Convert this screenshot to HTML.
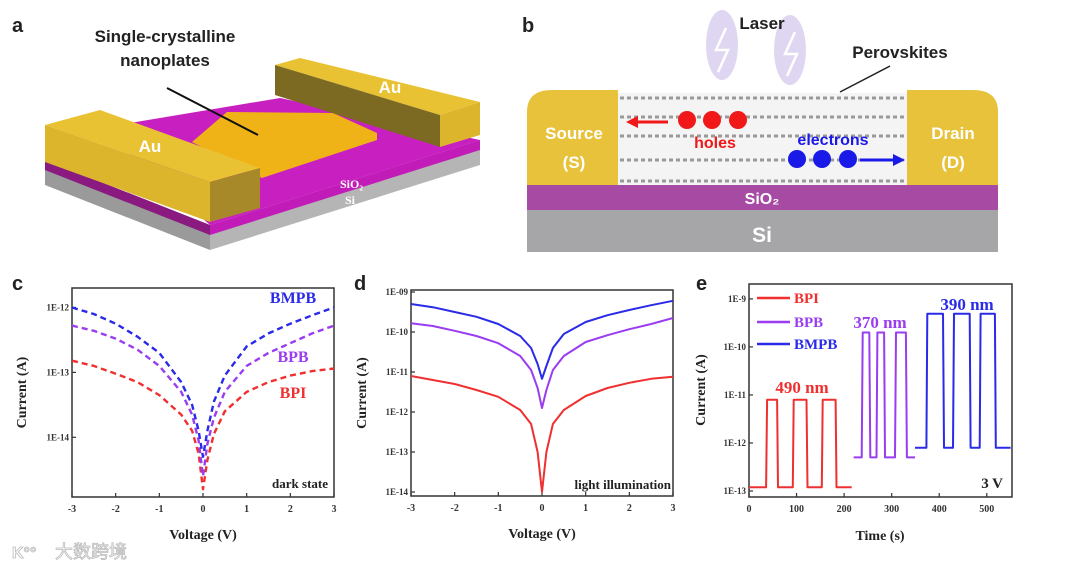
<!DOCTYPE html>
<html><head><meta charset="utf-8"><style>
html,body{margin:0;padding:0;background:#fff;}
svg{display:block;}
.ser{font-family:"Liberation Serif",serif;font-weight:bold;}
.san{font-family:"Liberation Sans",sans-serif;font-weight:bold;}
</style></head><body>
<svg id="fig" width="1080" height="571" viewBox="0 0 1080 571" xmlns="http://www.w3.org/2000/svg">
<!-- Panel a -->
<g>
<text x="12" y="32" class="san" font-size="20" fill="#222">a</text>
<!-- substrate -->
<polygon points="45,160 210,225 210,250 45,185" fill="#9a9a9a"/>
<polygon points="210,225 480,140 480,165 210,250" fill="#b5b5b5"/>
<polygon points="45,160 210,225 210,235 45,170" fill="#8a1a80"/>
<polygon points="210,225 480,140 480,150 210,235" fill="#c21cb8"/>
<polygon points="100,128 280,98 480,140 210,225" fill="#c81fc0"/>
<!-- nanoplate -->
<polygon points="192,142 227,112 333,113 377,133 377,140 262,178" fill="#efb318"/>
<!-- left Au -->
<polygon points="45,125 100,110 260,168 210,182" fill="#e9c233"/>
<polygon points="45,125 210,182 210,222 45,162" fill="#dcb52d"/>
<polygon points="210,182 260,168 260,208 210,222" fill="#a8892a"/>
<!-- right Au -->
<polygon points="275,65 300,58 480,102 440,115" fill="#e9c233"/>
<polygon points="275,65 440,115 440,147 275,95" fill="#7d6a22"/>
<polygon points="440,115 480,102 480,135 440,147" fill="#dcb52d"/>
<line x1="167" y1="88" x2="258" y2="135" stroke="#111" stroke-width="2"/>
<text x="165" y="42" text-anchor="middle" class="san" font-size="17" fill="#222">Single-crystalline</text>
<text x="165" y="66" text-anchor="middle" class="san" font-size="17" fill="#222">nanoplates</text>
<text x="150" y="152" text-anchor="middle" class="san" font-size="17" fill="#fff">Au</text>
<text x="390" y="93" text-anchor="middle" class="san" font-size="17" fill="#fff">Au</text>
<text x="340" y="188" class="ser" font-size="12" fill="#fff" font-weight="normal">SiO₂</text>
<text x="345" y="204" class="ser" font-size="12" fill="#fff" font-weight="normal">Si</text>
</g>
<!-- Panel b -->
<g>
<text x="522" y="32" class="san" font-size="20" fill="#222">b</text>
<ellipse cx="722" cy="45" rx="16" ry="35" fill="#c9bde8" opacity="0.6"/>
<ellipse cx="790" cy="50" rx="16" ry="35" fill="#c9bde8" opacity="0.6"/>
<polyline points="726,28 716,50 728,50 718,72" fill="none" stroke="#fff" stroke-width="2.5"/>
<polyline points="795,32 785,54 797,54 787,76" fill="none" stroke="#fff" stroke-width="2.5"/>
<text x="762" y="29" text-anchor="middle" class="san" font-size="17" fill="#222">Laser</text>
<text x="900" y="58" text-anchor="middle" class="san" font-size="17" fill="#222">Perovskites</text>
<line x1="890" y1="66" x2="840" y2="92" stroke="#222" stroke-width="1.5"/>
<rect x="527" y="210" width="471" height="42" fill="#a6a6a8"/>
<rect x="527" y="185" width="471" height="25" fill="#a74aa3"/>
<path d="M527,185 V112 Q527,90 552,90 H618 V185 Z" fill="#e7c23a"/>
<path d="M907,185 V90 H973 Q998,90 998,112 V185 Z" fill="#e7c23a"/>
<rect x="618" y="93" width="289" height="92" fill="#f4f4f4"/>
<g stroke="#9a9a9a" stroke-width="3" stroke-dasharray="4,3">
<line x1="620" y1="98" x2="905" y2="98"/><line x1="620" y1="117" x2="905" y2="117"/><line x1="620" y1="136" x2="905" y2="136"/><line x1="620" y1="160" x2="905" y2="160"/><line x1="620" y1="181" x2="905" y2="181"/>
</g>
<circle cx="687" cy="120" r="9" fill="#f01818"/>
<circle cx="712" cy="120" r="9" fill="#f01818"/>
<circle cx="738" cy="120" r="9" fill="#f01818"/>
<line x1="668" y1="122" x2="636" y2="122" stroke="#f01818" stroke-width="3"/>
<polygon points="626,122 638,116 638,128" fill="#f01818"/>
<text x="715" y="148" text-anchor="middle" class="san" font-size="16" fill="#f01818">holes</text>
<circle cx="797" cy="159" r="9" fill="#1a1ae8"/>
<circle cx="822" cy="159" r="9" fill="#1a1ae8"/>
<circle cx="848" cy="159" r="9" fill="#1a1ae8"/>
<line x1="860" y1="160" x2="895" y2="160" stroke="#1a1ae8" stroke-width="3"/>
<polygon points="905,160 893,154 893,166" fill="#1a1ae8"/>
<text x="833" y="145" text-anchor="middle" class="san" font-size="16" fill="#1a1ae8">electrons</text>
<text x="574" y="139" text-anchor="middle" class="san" font-size="17" fill="#fff">Source</text>
<text x="574" y="168" text-anchor="middle" class="san" font-size="17" fill="#fff">(S)</text>
<text x="953" y="139" text-anchor="middle" class="san" font-size="17" fill="#fff">Drain</text>
<text x="953" y="168" text-anchor="middle" class="san" font-size="17" fill="#fff">(D)</text>
<text x="762" y="204" text-anchor="middle" class="san" font-size="16" fill="#fff" font-weight="normal">SiO₂</text>
<text x="762" y="242" text-anchor="middle" class="san" font-size="21" fill="#fff">Si</text>
</g>
<text x="55" y="558" font-family="'Liberation Sans','Noto Sans CJK SC',sans-serif" font-size="18" fill="#fff" stroke="#bbb" stroke-width="0.8">大数跨境</text>
<text x="12" y="558" class="san" font-size="16" fill="#fff" stroke="#bbb" stroke-width="0.8">K°°</text>
<g id="charts"></g>
</svg>
<script>
// ---- Panel c data (log10 current, dark) ----
const cVolt = [-3,-2.5,-2,-1.5,-1,-0.5,-0.25,-0.1,0,0.1,0.25,0.5,1,1.5,2,2.5,3];
const cBMPB = [-12.0,-12.1,-12.25,-12.45,-12.7,-13.15,-13.5,-13.9,-14.3,-13.9,-13.45,-13.05,-12.6,-12.4,-12.25,-12.12,-12.0];
const cBPB  = [-12.28,-12.36,-12.48,-12.65,-12.9,-13.3,-13.65,-14.05,-14.6,-14.1,-13.7,-13.3,-12.9,-12.7,-12.55,-12.4,-12.28];
const cBPI  = [-12.82,-12.9,-13.02,-13.15,-13.35,-13.65,-13.9,-14.25,-14.8,-14.35,-13.95,-13.6,-13.3,-13.15,-13.05,-12.98,-12.94];
const cYTicks = [-12,-13,-14];
const cYLabels = ["1E-12","1E-13","1E-14"];
// ---- Panel d data (log10 current, light) ----
const dVolt = [-3,-2.5,-2,-1.5,-1,-0.5,-0.25,-0.1,0,0.1,0.25,0.5,1,1.5,2,2.5,3];
const dBMPB = [-9.3,-9.38,-9.5,-9.62,-9.8,-10.1,-10.4,-10.8,-11.17,-10.85,-10.4,-10.05,-9.75,-9.58,-9.45,-9.33,-9.22];
const dBPB  = [-9.78,-9.85,-9.97,-10.1,-10.28,-10.6,-10.95,-11.4,-11.9,-11.45,-10.95,-10.6,-10.25,-10.08,-9.93,-9.8,-9.65];
const dBPI  = [-11.1,-11.2,-11.3,-11.45,-11.62,-11.95,-12.3,-13.0,-14.0,-13.0,-12.3,-11.95,-11.6,-11.4,-11.27,-11.17,-11.12];
const dYTicks = [-9,-10,-11,-12,-13,-14];
const dYLabels = ["1E-09","1E-10","1E-11","1E-12","1E-13","1E-14"];
const vTicks = [-3,-2,-1,0,1,2,3];
// ---- Panel e data (time response) ----
const eBPIrange = [0,216];   const eBPIoff = -12.92; const eBPIon = -11.1;
const eBPIon_t = [36,92,153]; const eBPIoff_t = [59,121,182];
const eBPBrange = [220,349]; const eBPBoff = -12.3; const eBPBon = -9.7;
const eBPBon_t = [237,268,307]; const eBPBoff_t = [253,284,330];
const eBMPBrange = [349,550]; const eBMPBoff = -12.1; const eBMPBon = -9.31;
const eBMPBon_t = [373,429,485]; const eBMPBoff_t = [408,464,517];
const eXTicks = [0,100,200,300,400,500];
const eYTicks = [-9,-10,-11,-12,-13];
const eYLabels = ["1E-9","1E-10","1E-11","1E-12","1E-13"];

const NS="http://www.w3.org/2000/svg";
const root=document.getElementById('charts');
function mk(tag,attrs,parent){const e=document.createElementNS(NS,tag);for(const k in attrs)e.setAttribute(k,attrs[k]);(parent||root).appendChild(e);return e;}
function txt(x,y,s,size,anchor,fill,parent,cls){const t=mk('text',{x:x,y:y,'font-size':size,'text-anchor':anchor||'start',fill:fill||'#222',class:cls||'ser'},parent);t.textContent=s;return t;}

function axesBox(g,x0,x1,y0,y1){
  const r=mk('rect',{x:x0,y:y0,width:x1-x0,height:y1-y0,fill:'none',stroke:'#333','stroke-width':1.5},g);
  
  
}
function panel(name,letter,lx,box,xmin,xmax,ymin,ymax){
  const g=mk('g',{});
  
  
  const L=txt(lx,290,letter,20,'start','#222',g,'san');
  
  
  const sx=v=>box[0]+(v-xmin)/(xmax-xmin)*(box[1]-box[0]);
  const sy=v=>box[3]-(v-ymin)/(ymax-ymin)*(box[3]-box[2]);
  return {g,sx,sy};
}
function yAxis(P,box,ticks,labels){
  ticks.forEach((t,i)=>{const y=P.sy(t);
    mk('line',{x1:box[0],x2:box[0]+4,y1:y,y2:y,stroke:'#333','stroke-width':1.2},P.g);
    const l=txt(box[0]-3,y+3,labels[i],9,'end','#333',P.g);
    
    
  });
}
function xAxis(P,box,ticks){
  ticks.forEach(t=>{const x=P.sx(t);
    mk('line',{x1:x,x2:x,y1:box[3],y2:box[3]-4,stroke:'#333','stroke-width':1.2},P.g);
    const l=txt(x,box[3]+15,String(t),10,'middle','#333',P.g);
    
    
  });
}
function titles(P,box,xt,ytx){
  const xl=txt((box[0]+box[1])/2,box[3]+42,xt,14,'middle','#222',P.g);
  
  
  const yl=txt(0,0,'Current (A)',14,'middle','#222',P.g);
  yl.setAttribute('transform','translate('+ytx+','+((box[2]+box[3])/2)+') rotate(-90)');
  
  
}
function line(P,xs,ys,color,name,dash){
  const pts=xs.map((x,i)=>P.sx(x).toFixed(1)+','+P.sy(ys[i]).toFixed(1)).join(' ');
  const a={points:pts,fill:'none',stroke:color,'stroke-width':dash?2.4:2,'stroke-linejoin':'round'};
  if(dash)a['stroke-dasharray']='6,4';
  const p=mk('polyline',a,P.g);
  
  
}
const RED='#f03030',PUR='#9a3cf0',BLU='#2a2ae8';

// Panel c
const cBox=[72,334,288,497];
const C=panel('panel-c-dark-iv','c',12,cBox,-3,3,-14.92,-11.7);
axesBox(C.g,...cBox);yAxis(C,cBox,cYTicks,cYLabels);xAxis(C,cBox,vTicks);titles(C,cBox,'Voltage (V)',26);
line(C,cVolt,cBPI,RED,'c-bpi-line',true);line(C,cVolt,cBPB,PUR,'c-bpb-line',true);line(C,cVolt,cBMPB,BLU,'c-bmpb-line',true);
[['BMPB',303,BLU],['BPB',362,PUR],['BPI',398,RED]].forEach(a=>{const t=txt(293,a[1],a[0],16,'middle',a[2],C.g);
  
  });
const ds=txt(328,488,'dark state',13,'end','#222',C.g);



// Panel d
const dBox=[411,673,290,496];
const D=panel('panel-d-light-iv','d',354,dBox,-3,3,-14.1,-8.95);
axesBox(D.g,...dBox);yAxis(D,dBox,dYTicks,dYLabels);xAxis(D,dBox,vTicks);titles(D,dBox,'Voltage (V)',366);
line(D,dVolt,dBPI,RED,'d-bpi-line');line(D,dVolt,dBPB,PUR,'d-bpb-line');line(D,dVolt,dBMPB,BLU,'d-bmpb-line');
const li=txt(671,489,'light illumination',13,'end','#222',D.g);



// Panel e
const eBox=[749,1012,284,497];
const E=panel('panel-e-time-response','e',696,eBox,0,553,-13.125,-8.69);
axesBox(E.g,...eBox);yAxis(E,eBox,eYTicks,eYLabels);xAxis(E,eBox,eXTicks);
const ext=txt(880,540,'Time (s)',14,'middle','#222',E.g);


const eyt=txt(0,0,'Current (A)',14,'middle','#222',E.g);
eyt.setAttribute('transform','translate(705,390) rotate(-90)');


function square(range,offV,onV,ons,offs){
  const xs=[range[0]],ys=[offV];
  ons.forEach((t,i)=>{xs.push(t,t+2,offs[i],offs[i]+2);ys.push(offV,onV,onV,offV);});
  xs.push(range[1]);ys.push(offV);return [xs,ys];
}
let s=square(eBPIrange,eBPIoff,eBPIon,eBPIon_t,eBPIoff_t);line(E,s[0],s[1],RED,'e-bpi-line');
s=square(eBPBrange,eBPBoff,eBPBon,eBPBon_t,eBPBoff_t);line(E,s[0],s[1],PUR,'e-bpb-line');
s=square(eBMPBrange,eBMPBoff,eBMPBon,eBMPBon_t,eBMPBoff_t);line(E,s[0],s[1],BLU,'e-bmpb-line');
[['BPI',298,RED],['BPB',322,PUR],['BMPB',344,BLU]].forEach(a=>{
  const l=mk('line',{x1:757,x2:790,y1:a[1],y2:a[1],stroke:a[2],'stroke-width':2.5},E.g);
  
  
  const t=txt(794,a[1]+5,a[0],15,'start',a[2],E.g);t.setAttribute('font-weight','normal');
  
  
});
[['490 nm',802,393,RED],['370 nm',880,328,PUR],['390 nm',967,310,BLU]].forEach(a=>{
  const t=txt(a[1],a[2],a[0],17,'middle',a[3],E.g);
  
  
});
const v3=txt(1003,488,'3 V',15,'end','#222',E.g);


</script>
</body></html>
